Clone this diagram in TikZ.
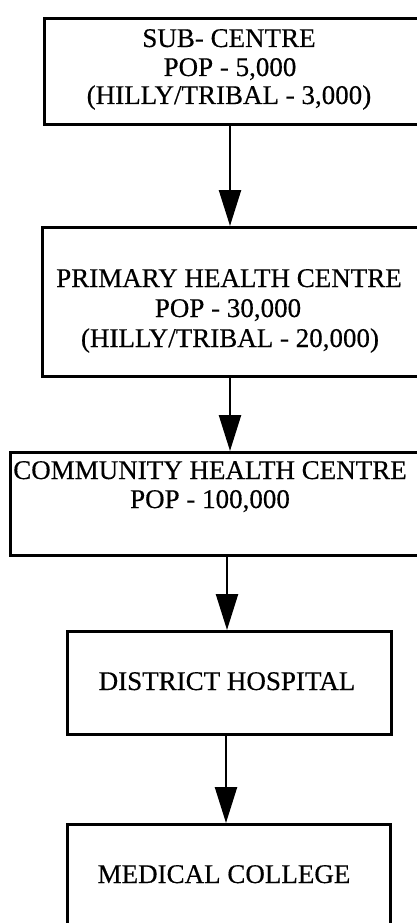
\documentclass[tikz,border=0pt]{standalone}
\usepackage{fontspec}
\setmainfont{Liberation Serif}
\newfontfamily\boxfont{Liberation Serif}[FakeBold=0.4]
\usetikzlibrary{arrows.meta}
\begin{document}
\begin{tikzpicture}[x=1pt,y=-1pt,
  levelbox/.style={draw=black,line width=2.8pt,rectangle,inner sep=0pt,anchor=north west},
  label/.style={anchor=base,inner sep=0pt,font=\boxfont\fontsize{27}{30}\selectfont},
  flow/.style={draw=black,line width=2.4pt,-{Triangle[length=36pt,width=22pt]}}]
  \useasboundingbox (0,0) rectangle (417,923);
  \fill[white] (0,0) rectangle (417,923);
  \clip (0,0) rectangle (417,923);

  % level boxes (the upper three and the last run off the sheet)
  \node[levelbox,minimum width=400pt,minimum height=106pt] (b1) at (43,17) {};
  \node[levelbox,minimum width=400pt,minimum height=149pt] (b2) at (41,226) {};
  \node[levelbox,minimum width=430pt,minimum height=103pt] (b3) at (9,451) {};
  \node[levelbox,minimum width=324pt,minimum height=103pt] (b4) at (66,630) {};
  \node[levelbox,minimum width=323pt,minimum height=130pt] (b5) at (66,823) {};

  % box texts
  \node[label] (t1a) at (229,47)  {SUB- CENTRE};
  \node[label] (t1b) at (230,76)  {POP - 5,000};
  \node[label] (t1c) at (229,104) {(HILLY/TRIBAL - 3,000)};

  \node[label] (t2a) at (229,287) {PRIMARY HEALTH CENTRE};
  \node[label] (t2b) at (228,317) {POP - 30,000};
  \node[label] (t2c) at (230,347) {(HILLY/TRIBAL - 20,000)};

  \node[label] (t3a) at (210,479) {COMMUNITY HEALTH CENTRE};
  \node[label] (t3b) at (210,508) {POP - 100,000};

  \node[label] (t4) at (227,690) {DISTRICT HOSPITAL};
  \node[label] (t5) at (224,883) {MEDICAL COLLEGE};

  % connector columns
  \coordinate (ax1) at (230,0);
  \coordinate (ax2) at (230,0);
  \coordinate (ax3) at (227,0);
  \coordinate (ax4) at (226,0);

  \draw[flow] (b1.south -| ax1) -- (b2.north -| ax1);
  \draw[flow] (b2.south -| ax2) -- (b3.north -| ax2);
  \draw[flow] (b3.south -| ax3) -- (b4.north -| ax3);
  \draw[flow] (b4.south -| ax4) -- (b5.north -| ax4);
\end{tikzpicture}
\end{document}
